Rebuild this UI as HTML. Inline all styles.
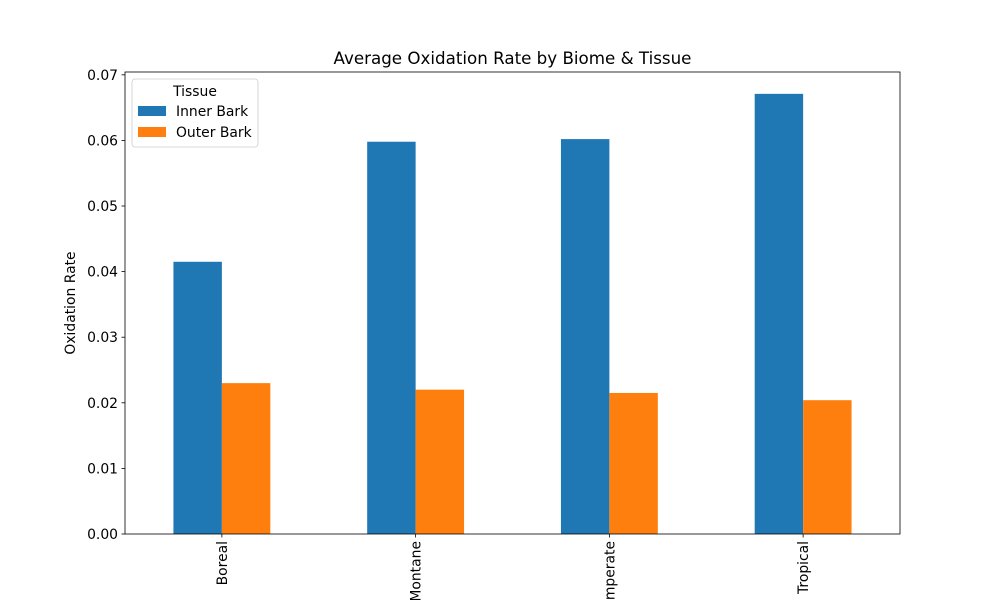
<!DOCTYPE html>
<html><head><meta charset="utf-8"><style>
body{margin:0;background:#fff;font-family:"Liberation Sans","DejaVu Sans",sans-serif}
svg text{font-family:"DejaVu Sans","Liberation Sans",sans-serif}
</style></head><body>
<svg id="c" width="1000" height="600" xmlns="http://www.w3.org/2000/svg"></svg>
<script>
const categories=["Boreal","Montane","Temperate","Tropical"];
const innerBark=[0.0415,0.0598,0.0602,0.0671];
const outerBark=[0.0230,0.0220,0.0215,0.0204];
const yTicks=[0,0.01,0.02,0.03,0.04,0.05,0.06,0.07];
const seriesNames=["Inner Bark","Outer Bark"];
const colors=["#1f77b4","#ff7f0e"];
const L=125,R=900,T=72,B=534,YMAX=0.07043;
const NS="http://www.w3.org/2000/svg";
const svg=document.getElementById('c');
function y(v){return B-(v/YMAX)*(B-T);}
const band=(R-L)/categories.length;
function xc(i){return L+band*(i+0.5);}
function el(t,a,p){const e=document.createElementNS(NS,t);for(const k in a)e.setAttribute(k,a[k]);(p||svg).appendChild(e);return e;}
const bw=band*0.25;
[innerBark,outerBark].forEach((s,si)=>{s.forEach((v,i)=>{
const r=el('rect',{x:xc(i)-bw+si*bw,y:y(v),width:bw,height:B-y(v),fill:colors[si]});


});});
yTicks.forEach(t=>{
el('line',{x1:L-3.5,x2:L,y1:y(t),y2:y(t),stroke:'#000','stroke-width':0.8});
const tx=el('text',{x:L-7,y:y(t)+5,'font-size':13.9,'text-anchor':'end'});tx.textContent=t.toFixed(2);


});
categories.forEach((c,i)=>{
el('line',{x1:xc(i),x2:xc(i),y1:B,y2:B+3.5,stroke:'#000','stroke-width':0.8});
const tx=el('text',{x:0,y:0,'font-size':13.9,'text-anchor':'end',transform:`translate(${xc(i)+5},${B+7}) rotate(-90)`});tx.textContent=c;


});
const fr=el('rect',{x:L,y:T,width:R-L,height:B-T,fill:'none',stroke:'#000','stroke-width':0.8});


const ti=el('text',{x:(L+R)/2,y:64,'font-size':16.7,'text-anchor':'middle'});ti.textContent="Average Oxidation Rate by Biome & Tissue";


const yl=el('text',{x:0,y:0,'font-size':13.9,'text-anchor':'middle',transform:`translate(75,${(T+B)/2}) rotate(-90)`});yl.textContent="Oxidation Rate";


const lg=el('g',{});


el('rect',{x:132,y:79,width:126,height:68,rx:3,fill:'#fff',stroke:'#ccc','stroke-width':0.8},lg);
const lt=el('text',{x:195,y:96,'font-size':13.9,'text-anchor':'middle'},lg);lt.textContent="Tissue";
seriesNames.forEach((n,i)=>{
const g=el('g',{},lg);


el('rect',{x:138,y:106+i*21,width:28,height:10,fill:colors[i]},g);
const t=el('text',{x:176,y:116+i*21,'font-size':13.9},g);t.textContent=n;
});
</script>
</body></html>
